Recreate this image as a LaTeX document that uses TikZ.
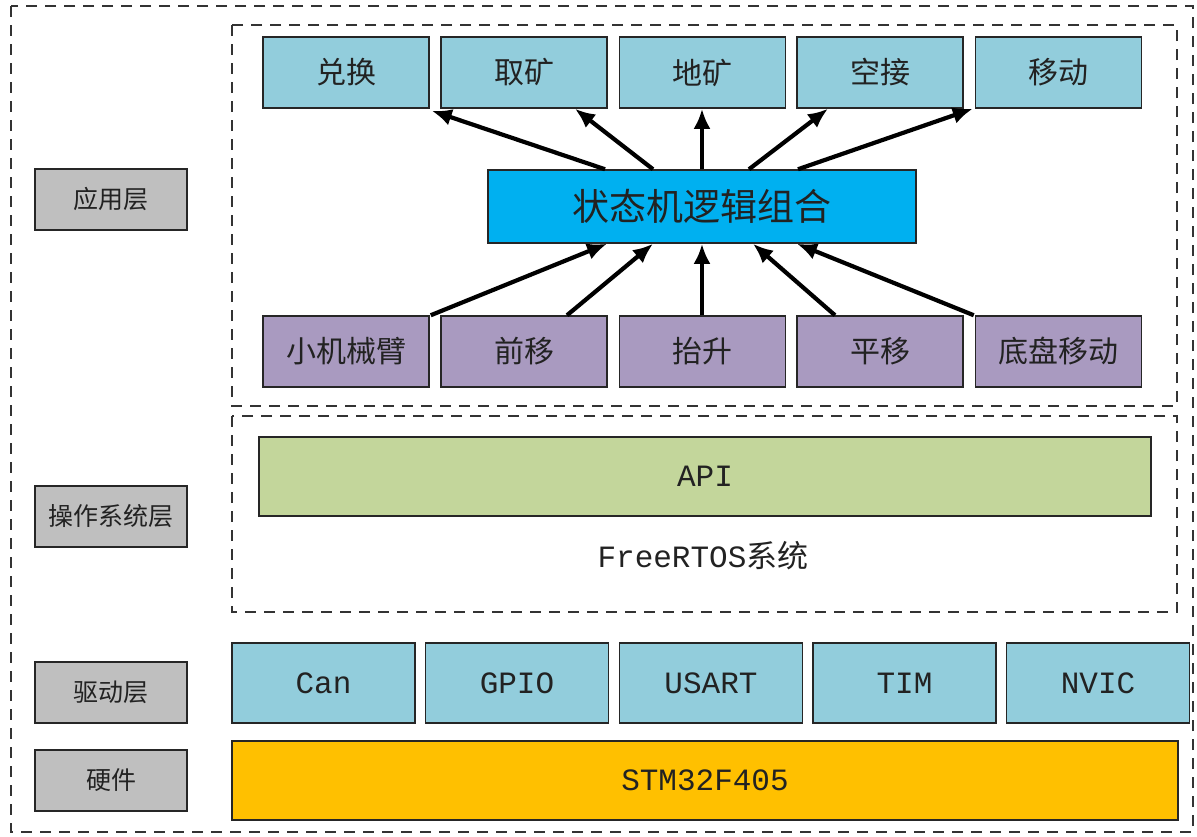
\documentclass[tikz,border=0pt]{standalone}
\usepackage{fontspec}
\setmainfont{Noto Sans CJK SC}
\newfontfamily\lat{Liberation Mono}
\usetikzlibrary{arrows.meta,calc}
\definecolor{lblue}{HTML}{92CDDC}
\definecolor{sblue}{HTML}{00B0F0}
\definecolor{lpurp}{HTML}{A99AC0}
\definecolor{lgreen}{HTML}{C3D69B}
\definecolor{orng}{HTML}{FFC000}
\definecolor{lgray}{HTML}{BFBFBF}
\definecolor{txt}{HTML}{222222}
\tikzset{
  box/.style={draw=black!85, line width=1.5pt, anchor=center, inner sep=0pt, text=txt},
  topbox/.style={box, fill=lblue, minimum width=166pt, minimum height=71pt, font=\fontsize{30}{32}\selectfont},
  botbox/.style={box, fill=lpurp, minimum width=166pt, minimum height=71pt, font=\fontsize{30}{32}\selectfont},
  drvbox/.style={box, fill=lblue, minimum width=183pt, minimum height=80pt, font=\lat\fontsize{31}{32}\selectfont},
  lbl/.style={box, fill=lgray, minimum width=152pt, minimum height=61pt, font=\fontsize{25}{27}\selectfont},
  frame/.style={draw=black!80, line width=1.5pt, dash pattern=on 11pt off 8pt},
  arr/.style={line width=4.2pt, -{Latex[length=20pt,width=17pt]}}
}
\begin{document}
\begin{tikzpicture}[x=1pt,y=-1pt]
\useasboundingbox (0,0) rectangle (1197,836);
\fill[white] (0,0) rectangle (1197,836);
% frames
\draw[frame] (11,6) rectangle (1193,832);
\draw[frame] (232,25) rectangle (1177,406);
\draw[frame] (232,416) rectangle (1177,612);
% left labels
\node[lbl] (l1) at (111,199.5) {应用层};
\node[lbl] (l2) at (111,516.5) {操作系统层};
\node[lbl] (l3) at (111,692.5) {驱动层};
\node[lbl] (l4) at (111,780.5) {硬件};
% top boxes
\node[topbox] (t1) at (346,72.5) {兑换};
\node[topbox] (t2) at (524,72.5) {取矿};
\node[topbox] (t3) at (702.5,72.5) {地矿};
\node[topbox] (t4) at (880,72.5) {空接};
\node[topbox] (t5) at (1058.5,72.5) {移动};
% state machine
\node[box, fill=sblue, minimum width=428pt, minimum height=73pt, font=\fontsize{37}{40}\selectfont] (sm) at (702,206.5) {状态机逻辑组合};
% bottom boxes
\node[botbox] (b1) at (346,351.5) {小机械臂};
\node[botbox] (b2) at (524,351.5) {前移};
\node[botbox] (b3) at (702.5,351.5) {抬升};
\node[botbox] (b4) at (880,351.5) {平移};
\node[botbox] (b5) at (1058.5,351.5) {底盘移动};
% arrows up
\draw[arr] ([xshift=-97pt]sm.north) -- ([xshift=2pt,yshift=-2pt]t1.south east);
\draw[arr] ([xshift=-49pt]sm.north) -- ([xshift=51pt]t2.south);
\draw[arr] (sm.north) -- (sm.north |- t3.south);
\draw[arr] ([xshift=47pt]sm.north) -- ([xshift=-52pt]t4.south);
\draw[arr] ([xshift=96pt]sm.north) -- ([xshift=-2pt]t5.south west);
\draw[arr] ([xshift=1pt]b1.north east) -- ([xshift=-95pt]sm.south);
\draw[arr] ([xshift=43pt]b2.north) -- ([xshift=-49pt]sm.south);
\draw[arr] (sm.south |- b3.north) -- (sm.south);
\draw[arr] ([xshift=-45pt]b4.north) -- ([xshift=51pt]sm.south);
\draw[arr] ([xshift=-1pt]b5.north west) -- ([xshift=95pt]sm.south);
% OS layer
\node[box, fill=lgreen, minimum width=892pt, minimum height=79pt, font=\lat\fontsize{31}{32}\selectfont] (api) at (705,476.5) {API};
\node[text=txt, inner sep=0pt, font=\fontsize{31}{33}\selectfont] (rtos) at (703,556) {{\lat FreeRTOS}系统};
% drivers
\node[drvbox] (d1) at (323.5,683) {Can};
\node[drvbox] (d2) at (517,683) {GPIO};
\node[drvbox] (d3) at (711,683) {USART};
\node[drvbox] (d4) at (904.5,683) {TIM};
\node[drvbox] (d5) at (1098,683) {NVIC};
% hardware
\node[box, fill=orng, minimum width=946pt, minimum height=79pt, font=\lat\fontsize{31}{32}\selectfont] (hw) at (705,780.5) {STM32F405};
\end{tikzpicture}
\end{document}
